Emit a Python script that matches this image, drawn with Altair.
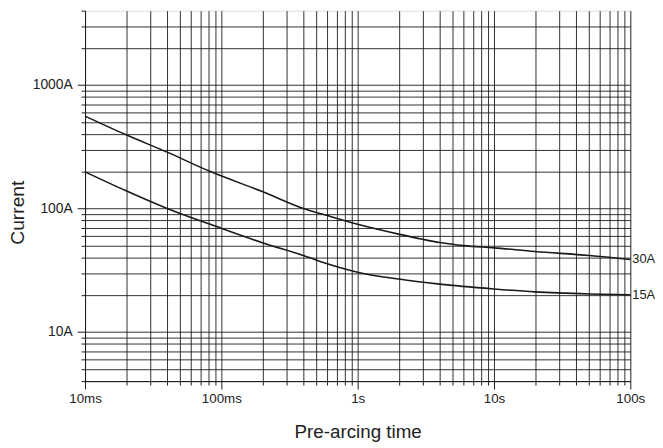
import altair as alt
import pandas as pd

# ---- data ----
t_30 = [0.01, 0.02, 0.04, 0.084, 0.2, 0.4, 0.59, 1, 2, 3, 4, 6, 10, 20, 50, 100]
i_30 = [560, 395, 286, 198, 137, 100, 88, 74.5, 62, 56.3, 53, 50, 48, 44.8, 41.6, 38.6]
t_15 = [0.01, 0.02, 0.04, 0.09, 0.2, 0.4, 0.59, 1, 2, 4, 10, 20, 50, 100]
i_15 = [198, 139, 100, 72, 52.8, 41.6, 35.9, 30.5, 26.8, 24.4, 22.3, 21.1, 20.3, 20]
series_names = ["30A", "15A"]

x_ticks = [0.01, 0.02, 0.03, 0.04, 0.05, 0.06, 0.07, 0.08, 0.09,
           0.1, 0.2, 0.3, 0.4, 0.5, 0.6, 0.7, 0.8, 0.9,
           1, 2, 3, 4, 5, 6, 7, 8, 9,
           10, 20, 30, 40, 50, 60, 70, 80, 90, 100]
x_major = [0.01, 0.1, 1, 10, 100]
x_major_labels = ["10ms", "100ms", "1s", "10s", "100s"]

y_ticks = [4, 5, 6, 7, 8, 9,
           10, 20, 30, 40, 50, 60, 70, 80, 90,
           100, 200, 300, 400, 500, 600, 700, 800, 900,
           1000, 2000, 3000, 4000]
y_major = [10, 100, 1000]
y_major_labels = ["10A", "100A", "1000A"]

rows = []
for t, i in zip(t_30, i_30):
    rows.append({"t": t, "I": i, "s": series_names[0]})
for t, i in zip(t_15, i_15):
    rows.append({"t": t, "I": i, "s": series_names[1]})
df = pd.DataFrame(rows)

end_df = pd.DataFrame({
    "t": [t_30[-1], t_15[-1]],
    "I": [i_30[-1], i_15[-1]],
    "s": series_names,
})


def label_expr(values, labels):
    expr = "''"
    for v, lab in reversed(list(zip(values, labels))):
        expr = f"datum.value == {v} ? '{lab}' : ({expr})"
    return expr


x_major_test = "indexof(" + str(x_major) + ", datum.value) >= 0"
y_major_test = "indexof(" + str(y_major) + ", datum.value) >= 0"

x_scale = alt.Scale(type="log", domain=[0.01, 100], nice=False)
y_scale = alt.Scale(type="log", domain=[4, 4000], nice=False)

FONT = "Liberation Sans"
INK = "#1a1a1a"

x_axis = alt.Axis(
    values=x_ticks,
    grid=True,
    gridColor=INK,
    gridWidth=1,
    gridOpacity=0.9,
    domainColor=INK,
    tickColor=INK,
    tickSize={"condition": {"test": x_major_test, "value": 8}, "value": 4},
    labelExpr=label_expr(x_major, x_major_labels),
    labelOverlap=False,
    labelFlush=False,
    labelFont=FONT,
    labelFontSize=13.5,
    labelColor="#222",
    labelPadding=3,
    title="Pre-arcing time",
    titleFont=FONT,
    titleFontSize=19,
    titleFontWeight="normal",
    titleColor="#222",
    titlePadding=18,
)

y_axis = alt.Axis(
    values=y_ticks,
    grid=True,
    gridColor=INK,
    gridWidth=1,
    gridOpacity={"condition": {"test": "datum.value >= 4000", "value": 0}, "value": 0.9},
    domainColor=INK,
    tickColor=INK,
    tickSize={"condition": {"test": y_major_test, "value": 8}, "value": 4},
    labelExpr=label_expr(y_major, y_major_labels),
    labelOverlap=False,
    labelFlush=False,
    labelFont=FONT,
    labelFontSize=14,
    labelColor="#222",
    labelPadding=5,
    title="Current",
    titleFont=FONT,
    titleFontSize=19.5,
    titleFontWeight="normal",
    titleColor="#222",
    titlePadding=5,
    titleY=204,
)

lines = alt.Chart(df).mark_line(color=INK, strokeWidth=1.6, interpolate="monotone").encode(
    x=alt.X("t:Q", scale=x_scale, axis=x_axis),
    y=alt.Y("I:Q", scale=y_scale, axis=y_axis),
    detail="s:N",
)

labels = alt.Chart(end_df).mark_text(
    align="left", baseline="middle", dx=2, font=FONT, fontSize=13, color="#222"
).encode(
    x=alt.X("t:Q", scale=x_scale),
    y=alt.Y("I:Q", scale=y_scale),
    text="s:N",
)

chart = alt.layer(lines, labels).properties(
    width=552, height=375,
    autosize=alt.AutoSizeParams(type="none"),
    padding={"left": 78, "top": 0, "right": 25, "bottom": 62},
).configure_view(stroke=None).configure(background="white")

chart.save("out.html", embed_options={"renderer": "svg", "actions": False})
